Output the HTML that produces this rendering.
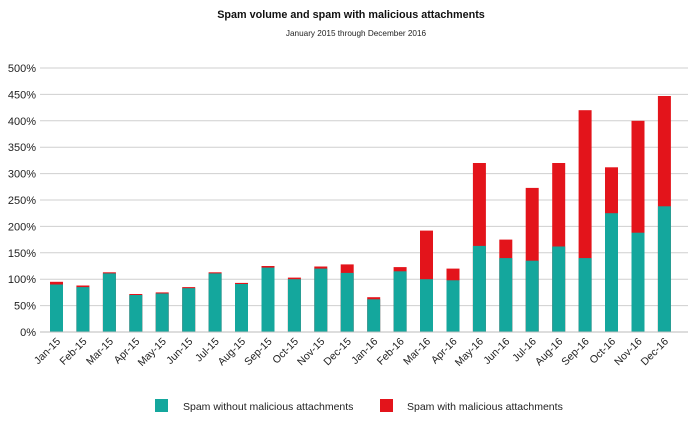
<!DOCTYPE html>
<html><head><meta charset="utf-8"><style>body{margin:0;background:#fff}svg{display:block;font-family:"Liberation Sans",Arial,sans-serif}</style></head><body>
<svg width="700" height="432" viewBox="0 0 700 432" xmlns="http://www.w3.org/2000/svg">
<rect width="700" height="432" fill="#fff"/>
<text x="351" y="18" font-size="10.8" font-weight="bold" text-anchor="middle" fill="#111">Spam volume and spam with malicious attachments</text>
<text x="356" y="36" font-size="8.2" text-anchor="middle" fill="#222">January 2015 through December 2016</text>
<g stroke="#cfcfcf" stroke-width="1">
<line x1="40" x2="688" y1="305.6" y2="305.6"/><line x1="40" x2="688" y1="279.2" y2="279.2"/><line x1="40" x2="688" y1="252.8" y2="252.8"/><line x1="40" x2="688" y1="226.4" y2="226.4"/><line x1="40" x2="688" y1="200" y2="200"/><line x1="40" x2="688" y1="173.6" y2="173.6"/><line x1="40" x2="688" y1="147.2" y2="147.2"/><line x1="40" x2="688" y1="120.8" y2="120.8"/><line x1="40" x2="688" y1="94.4" y2="94.4"/><line x1="40" x2="688" y1="68" y2="68"/>
</g>
<g font-size="11" text-anchor="end" fill="#222">
<text x="36" y="336">0%</text><text x="36" y="309.6">50%</text><text x="36" y="283.2">100%</text><text x="36" y="256.8">150%</text><text x="36" y="230.4">200%</text><text x="36" y="204">250%</text><text x="36" y="177.6">300%</text><text x="36" y="151.2">350%</text><text x="36" y="124.8">400%</text><text x="36" y="98.4">450%</text><text x="36" y="72">500%</text>
</g>
<g fill="#e3141b">
<rect x="50" y="281.8" width="13" height="50.2"/><rect x="76.4" y="285.5" width="13" height="46.5"/><rect x="102.9" y="272.3" width="13" height="59.7"/><rect x="129.3" y="294" width="13" height="38"/><rect x="155.7" y="292.4" width="13" height="39.6"/><rect x="182.2" y="287.1" width="13" height="44.9"/><rect x="208.6" y="272.3" width="13" height="59.7"/><rect x="235" y="282.9" width="13" height="49.1"/><rect x="261.5" y="266" width="13" height="66"/><rect x="287.9" y="277.6" width="13" height="54.4"/><rect x="314.3" y="266.5" width="13" height="65.5"/><rect x="340.7" y="264.4" width="13" height="67.6"/><rect x="367.2" y="297.2" width="13" height="34.8"/><rect x="393.6" y="267.1" width="13" height="64.9"/><rect x="420" y="230.6" width="13" height="101.4"/><rect x="446.5" y="268.6" width="13" height="63.4"/><rect x="472.9" y="163" width="13" height="169"/><rect x="499.3" y="239.6" width="13" height="92.4"/><rect x="525.7" y="187.9" width="13" height="144.1"/><rect x="552.2" y="163" width="13" height="169"/><rect x="578.6" y="110.2" width="13" height="221.8"/><rect x="605" y="167.3" width="13" height="164.7"/><rect x="631.5" y="120.8" width="13" height="211.2"/><rect x="657.9" y="96" width="13" height="236"/>
</g>
<g fill="#14a79d">
<rect x="50" y="284.5" width="13" height="47.5"/><rect x="76.4" y="287.1" width="13" height="44.9"/><rect x="102.9" y="273.4" width="13" height="58.6"/><rect x="129.3" y="295" width="13" height="37"/><rect x="155.7" y="293.5" width="13" height="38.5"/><rect x="182.2" y="288.2" width="13" height="43.8"/><rect x="208.6" y="273.4" width="13" height="58.6"/><rect x="235" y="284" width="13" height="48"/><rect x="261.5" y="267.6" width="13" height="64.4"/><rect x="287.9" y="279.2" width="13" height="52.8"/><rect x="314.3" y="268.6" width="13" height="63.4"/><rect x="340.7" y="272.9" width="13" height="59.1"/><rect x="367.2" y="299.3" width="13" height="32.7"/><rect x="393.6" y="271.3" width="13" height="60.7"/><rect x="420" y="279.2" width="13" height="52.8"/><rect x="446.5" y="280.3" width="13" height="51.7"/><rect x="472.9" y="245.9" width="13" height="86.1"/><rect x="499.3" y="258.1" width="13" height="73.9"/><rect x="525.7" y="260.7" width="13" height="71.3"/><rect x="552.2" y="246.5" width="13" height="85.5"/><rect x="578.6" y="258.1" width="13" height="73.9"/><rect x="605" y="213.2" width="13" height="118.8"/><rect x="631.5" y="232.7" width="13" height="99.3"/><rect x="657.9" y="206.3" width="13" height="125.7"/>
</g>
<line x1="40" x2="688" y1="332" y2="332" stroke="#bbb" stroke-width="1"/>
<g font-size="10.5" text-anchor="end" fill="#222">
<text transform="translate(61,342) rotate(-45)">Jan-15</text><text transform="translate(87.4,342) rotate(-45)">Feb-15</text><text transform="translate(113.9,342) rotate(-45)">Mar-15</text><text transform="translate(140.3,342) rotate(-45)">Apr-15</text><text transform="translate(166.7,342) rotate(-45)">May-15</text><text transform="translate(193.2,342) rotate(-45)">Jun-15</text><text transform="translate(219.6,342) rotate(-45)">Jul-15</text><text transform="translate(246,342) rotate(-45)">Aug-15</text><text transform="translate(272.5,342) rotate(-45)">Sep-15</text><text transform="translate(298.9,342) rotate(-45)">Oct-15</text><text transform="translate(325.3,342) rotate(-45)">Nov-15</text><text transform="translate(351.7,342) rotate(-45)">Dec-15</text><text transform="translate(378.2,342) rotate(-45)">Jan-16</text><text transform="translate(404.6,342) rotate(-45)">Feb-16</text><text transform="translate(431,342) rotate(-45)">Mar-16</text><text transform="translate(457.5,342) rotate(-45)">Apr-16</text><text transform="translate(483.9,342) rotate(-45)">May-16</text><text transform="translate(510.3,342) rotate(-45)">Jun-16</text><text transform="translate(536.7,342) rotate(-45)">Jul-16</text><text transform="translate(563.2,342) rotate(-45)">Aug-16</text><text transform="translate(589.6,342) rotate(-45)">Sep-16</text><text transform="translate(616,342) rotate(-45)">Oct-16</text><text transform="translate(642.5,342) rotate(-45)">Nov-16</text><text transform="translate(668.9,342) rotate(-45)">Dec-16</text>
</g>
<rect x="155" y="399" width="13" height="13" fill="#14a79d"/>
<text x="183" y="410" font-size="10.5" fill="#222">Spam without malicious attachments</text>
<rect x="380" y="399" width="13" height="13" fill="#e3141b"/>
<text x="407" y="410" font-size="10.5" fill="#222">Spam with malicious attachments</text>
</svg>
</body></html>
